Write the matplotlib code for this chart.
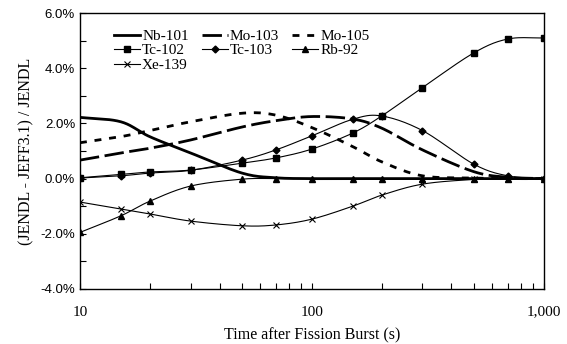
import numpy as np
import matplotlib
matplotlib.use("Agg")
import matplotlib.pyplot as plt
from matplotlib.ticker import FixedLocator, FuncFormatter

# time after fission burst (s)
times = [10, 15, 20, 30, 50, 70, 100, 150, 200, 300, 500, 700, 1000]

# (JENDL - JEFF3.1) / JENDL in %
nb101 = [2.22, 2.06, 1.52, 0.93, 0.20, 0.03, 0.0, 0.0, 0.0, 0.0, 0.0, 0.0, 0.0]
mo103 = [0.67, 0.93, 1.10, 1.40, 1.87, 2.10, 2.25, 2.16, 1.83, 1.04, 0.25, 0.05, 0.0]
mo105 = [1.30, 1.52, 1.74, 2.06, 2.37, 2.30, 1.85, 1.16, 0.61, 0.10, 0.02, 0.0, 0.0]
tc102 = [0.03, 0.15, 0.24, 0.31, 0.56, 0.75, 1.07, 1.65, 2.27, 3.30, 4.56, 5.06, 5.10]
tc103 = [0.02, 0.10, 0.20, 0.30, 0.67, 1.04, 1.55, 2.15, 2.27, 1.74, 0.52, 0.10, 0.0]
rb92 = [-1.95, -1.35, -0.82, -0.27, -0.02, 0.0, 0.0, 0.0, 0.0, 0.0, 0.0, 0.0, 0.0]
xe139 = [-0.85, -1.10, -1.28, -1.54, -1.71, -1.68, -1.47, -1.00, -0.60, -0.20, -0.03, 0.0, 0.0]


def smooth(x, y, n=20):
    # catmull-rom through the points in log-x space (like excel smoothed lines)
    lx = np.log10(x)
    y = np.asarray(y, dtype=float)
    px = np.concatenate([[2 * lx[0] - lx[1]], lx, [2 * lx[-1] - lx[-2]]])
    py = np.concatenate([[2 * y[0] - y[1]], y, [2 * y[-1] - y[-2]]])
    xs, ys = [], []
    t = np.linspace(0, 1, n, endpoint=False)
    for i in range(1, len(px) - 2):
        for p, out in ((px, xs), (py, ys)):
            p0, p1, p2, p3 = p[i - 1], p[i], p[i + 1], p[i + 2]
            out.extend(0.5 * (2 * p1 + (-p0 + p2) * t
                              + (2 * p0 - 5 * p1 + 4 * p2 - p3) * t ** 2
                              + (-p0 + 3 * p1 - 3 * p2 + p3) * t ** 3))
    xs.append(lx[-1])
    ys.append(y[-1])
    return 10 ** np.array(xs), np.array(ys)


serif = "Liberation Serif"
sans = "Liberation Sans"

fig = plt.figure(figsize=(5.67, 3.44), dpi=100)
ax = fig.add_axes([0.141, 0.160, 0.818, 0.802])

series = [
    ("Nb-101", nb101, dict(lw=2.0, ls="-"), None),
    ("Mo-103", mo103, dict(lw=2.0, ls=(0, (7, 2))), None),
    ("Mo-105", mo105, dict(lw=2.0, ls=(0, (2.5, 2.8))), None),
    ("Tc-102", tc102, dict(lw=0.8, ls="-"), dict(marker="s", ms=5)),
    ("Tc-103", tc103, dict(lw=0.8, ls="-"), dict(marker="D", ms=3.5)),
    ("Rb-92", rb92, dict(lw=0.8, ls="-"), dict(marker="^", ms=5)),
    ("Xe-139", xe139, dict(lw=0.8, ls="-"), dict(marker="x", ms=5, mew=0.8)),
]

handles = {}
for name, vals, lstyle, mstyle in series:
    sx, sy = smooth(times, vals)
    ax.plot(sx, sy, color="black", **lstyle)
    if mstyle:
        ax.plot(times, vals, ls="none", color="black", **mstyle)
        h, = ax.plot([], [], color="black", label=name, **lstyle, **mstyle)
    else:
        h, = ax.plot([], [], color="black", label=name, **lstyle)
    handles[name] = h

ax.set_xscale("log")
ax.set_xlim(10, 1000)
ax.set_ylim(-4, 6)

ax.xaxis.set_major_locator(FixedLocator([10, 100, 1000]))
ax.xaxis.set_minor_locator(FixedLocator([v * d for d in (10, 100) for v in range(2, 10)]))
ax.xaxis.set_major_formatter(FuncFormatter(lambda v, p: f"{v:,.0f}"))
ax.xaxis.set_minor_formatter(FuncFormatter(lambda v, p: ""))
ax.yaxis.set_major_locator(FixedLocator([-4, -2, 0, 2, 4, 6]))
ax.yaxis.set_minor_locator(FixedLocator([-3, -1, 1, 3, 5]))
ax.yaxis.set_major_formatter(FuncFormatter(lambda v, p: f"{v:.1f}%"))

ax.tick_params(which="both", direction="in", length=4, width=0.8)
ax.tick_params(axis="x", which="major", pad=12)
for lab in ax.get_xticklabels():
    lab.set_fontfamily(serif)
    lab.set_fontsize(11)
for lab in ax.get_yticklabels():
    lab.set_fontfamily(sans)
    lab.set_fontsize(9.5)
for sp in ax.spines.values():
    sp.set_linewidth(1.0)

ax.set_xlabel("Time after Fission Burst (s)", fontfamily=serif, fontsize=11.5, labelpad=6)
ax.set_ylabel("(JENDL - JEFF3.1) / JENDL", fontfamily=serif, fontsize=11.5, labelpad=4)

# matplotlib fills legend columns first, so order the entries to read row by row
leg_order = ["Nb-101", "Tc-102", "Xe-139", "Mo-103", "Tc-103", "Mo-105", "Rb-92"]
ax.legend(handles=[handles[k] for k in leg_order], ncol=3, loc="upper left",
          bbox_to_anchor=(0.05, 0.98), frameon=False,
          prop={"family": serif, "size": 11},
          handlelength=1.7, handletextpad=0.15, columnspacing=0.85,
          labelspacing=0.05, borderpad=0.2)

fig.savefig("out.png", dpi=100)
